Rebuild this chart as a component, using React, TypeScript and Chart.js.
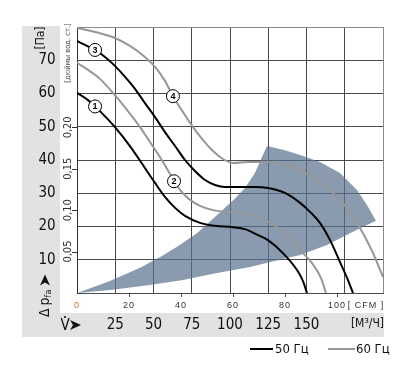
import React, { useEffect, useRef } from "react";
import { Chart, registerables } from "chart.js";

Chart.register(...registerables);

// Curve 1 (50 Hz, lower) — flow m³/h, pressure Pa
const curve1X = [0, 7.2, 15, 24.8, 34.6, 44.4, 51, 57.5, 64.1, 70.6, 80.4, 90.2, 102, 109.8, 118.3, 124.8, 134.6, 143.8, 147.7, 150.3];
const curve1Y = [60.2, 58, 54.7, 49.9, 44.2, 37.6, 33.1, 28.9, 25.6, 23.2, 21.1, 20.2, 19.8, 19.2, 17.4, 15.9, 12, 6.9, 3.6, 0];
// Curve 2 (60 Hz, lower)
const curve2X = [0, 7.2, 15, 24.8, 33.3, 41.2, 47.7, 54.2, 60.8, 67.3, 73.9, 80.4, 88.2, 96.7, 106.5, 116.3, 122.9, 129.4, 137.9, 145.8, 153.6, 159.5, 162.7];
const curve2Y = [69.2, 67.1, 64.4, 59.5, 54.7, 49.9, 45.4, 40.9, 35.8, 31, 28, 26.2, 25, 24.4, 24.1, 23.2, 22, 20.2, 17.1, 12.9, 9, 4.5, 0];
// Curve 3 (50 Hz, upper)
const curve3X = [0, 5.2, 11.8, 18.3, 24.8, 31.4, 37.9, 44.4, 51, 57.5, 64.1, 70.6, 77.1, 83.7, 90.2, 96.7, 106.5, 116.3, 124.8, 135.9, 145.8, 152.3, 158.8, 165.4, 171.9, 177.1, 180.4];
const curve3Y = [75.8, 74.6, 73.1, 71, 68.3, 65, 61.4, 57.1, 52.9, 48.4, 44.2, 40, 36.7, 34, 32.5, 31.9, 31.9, 31.9, 31.6, 30.1, 27.1, 24.4, 21.1, 15.9, 9.3, 3.9, 0];
// Curve 4 (60 Hz, upper)
const curve4X = [0, 11.8, 24.8, 34.6, 44.4, 51, 57.5, 62.7, 69.3, 75.8, 82.4, 88.9, 95.4, 102, 111.8, 120.9, 131.4, 142.5, 156.9, 167.3, 178.4, 186.9, 193.5, 200];
const curve4Y = [79.7, 78.5, 76.7, 74.3, 71, 68, 63.8, 59.2, 54.4, 49.9, 46, 42.7, 40.3, 39.1, 39.4, 39.4, 39.1, 37.6, 34, 30.1, 24.4, 18, 12, 4.8];
// Operating (shaded) region outline
const shadeX = [0, 21.6, 41.2, 55, 65.4, 78.4, 86.9, 94.8, 103.3, 109.8, 116.3, 120.9, 124.2, 135.9, 145.8, 158.8, 171.9, 183, 189.5, 195.4, 178.4, 163.4, 145.8, 134.6, 113.1, 91.5, 69.3, 47.7, 21.6, 0];
const shadeY = [0, 3.6, 7.6, 11, 13.9, 18, 21.5, 24.8, 28.4, 31.6, 36.1, 40.9, 44.2, 42.9, 41.5, 39.4, 36.1, 31, 26.5, 21.7, 18, 14.4, 11.4, 10.2, 7.8, 6, 3.9, 2.4, 0.9, 0];

// Curve number markers
const markerText = ["1", "2", "3", "4"];
const markerX = [11.8, 63.4, 11.8, 62.7];
const markerY = [56.1, 33.6, 73.1, 59.2];

// Tick labels
const paTicks = [10, 20, 30, 40, 50, 60, 70];
const flowTicks = [25, 50, 75, 100, 125, 150];
const inchTicks = [0.05, 0.1, 0.15, 0.2];
const cfmTicks = [0, 20, 40, 60, 80, 100];
const legendLabels = ["50 Гц", "60 Гц"];

const PA_PER_INCH = 249.09;
const M3H_PER_CFM = 1.699;

const NARROW = '"Liberation Sans Narrow", "DejaVu Sans Condensed", "Liberation Sans", Arial, sans-serif';
const SANS = '"Liberation Sans", Arial, sans-serif';
const BLACK = "#000000";
const GRAY = "#979797";

const pts = (xs: number[], ys: number[]) => xs.map((x, i) => ({ x, y: ys[i] }));

const decorPlugin = {
  id: "decor",
  beforeDraw(chart: any) {
    const { ctx, chartArea: a, width, height } = chart;
    ctx.save();
    ctx.fillStyle = "#ffffff";
    ctx.fillRect(0, 0, width, height);
    ctx.fillStyle = "#e2e2e2";
    ctx.fillRect(a.left - 55, a.top - 1, 38, a.bottom + 44 - (a.top - 1));
    ctx.fillRect(a.left - 55, a.bottom + 20, a.right + 1 - (a.left - 55), 24);
    ctx.restore();
  },
  afterDatasetsDraw(chart: any) {
    const { ctx, scales } = chart;
    const xs = scales.x, ys = scales.y;
    ctx.save();
    markerText.forEach((t, i) => {
      const px = xs.getPixelForValue(markerX[i]);
      const py = ys.getPixelForValue(markerY[i]);
      ctx.beginPath();
      ctx.arc(px, py, 6.5, 0, Math.PI * 2);
      ctx.fillStyle = "#fff";
      ctx.fill();
      ctx.lineWidth = 1;
      ctx.strokeStyle = "#000";
      ctx.stroke();
      ctx.fillStyle = "#000";
      ctx.font = "bold 9px " + SANS;
      ctx.textAlign = "center";
      ctx.textBaseline = "middle";
      ctx.fillText(t, px, py + 0.5);
    });
    ctx.restore();
  },
  afterDraw(chart: any) {
    const { ctx, scales, chartArea: a } = chart;
    const xs = scales.x, ys = scales.y;
    ctx.save();
    ctx.textAlign = "center";
    ctx.textBaseline = "middle";

    // Pa labels
    ctx.fillStyle = "#111";
    ctx.font = "15px " + NARROW;
    paTicks.forEach((v) => ctx.fillText(String(v), a.left - 30, ys.getPixelForValue(v)));

    // [Па]
    ctx.save();
    ctx.translate(a.left - 36, a.top + 11);
    ctx.rotate(-Math.PI / 2);
    ctx.font = "12px " + NARROW;
    ctx.fillText("[Па]", 0, 0);
    ctx.restore();

    // Δ p_fa with arrow
    ctx.save();
    ctx.translate(a.left - 32, a.bottom + 24);
    ctx.rotate(-Math.PI / 2);
    ctx.textAlign = "left";
    ctx.font = "14px " + NARROW;
    ctx.fillText("Δ", 0, 0);
    let off = ctx.measureText("Δ").width + 3;
    ctx.fillText("p", off, 0);
    off += ctx.measureText("p").width;
    ctx.font = "9px " + NARROW;
    ctx.fillText("fa", off, 4);
    off += ctx.measureText("fa").width + 4;
    ctx.beginPath();
    ctx.moveTo(off, -5);
    ctx.lineTo(off + 11, 0);
    ctx.lineTo(off, 5);
    ctx.lineTo(off + 3, 0);
    ctx.closePath();
    ctx.fill();
    ctx.restore();

    // inch of water labels + ticks
    ctx.fillStyle = "#333";
    ctx.strokeStyle = "#333";
    ctx.lineWidth = 1;
    inchTicks.forEach((v) => {
      const py = ys.getPixelForValue(v * PA_PER_INCH);
      ctx.beginPath();
      ctx.moveTo(a.left - 5, Math.round(py) + 0.5);
      ctx.lineTo(a.left, Math.round(py) + 0.5);
      ctx.stroke();
      ctx.save();
      ctx.translate(a.left - 8.5, py);
      ctx.rotate(-Math.PI / 2);
      ctx.font = "11px " + NARROW;
      ctx.fillText(v.toFixed(2).replace(".", ","), 0, 0);
      ctx.restore();
    });
    ctx.save();
    ctx.translate(a.left - 8.5, a.top + 26);
    ctx.rotate(-Math.PI / 2);
    ctx.fillStyle = "#5a5048";
    ctx.font = "7.5px " + NARROW;
    ctx.fillText("[дюймы вод. ст.]", 0, 0);
    ctx.restore();

    // CFM ticks & labels
    ctx.font = "9px " + SANS;
    (ctx as any).letterSpacing = "1px";
    cfmTicks.forEach((c) => {
      const px = xs.getPixelForValue(c * M3H_PER_CFM);
      if (c > 0) {
        ctx.strokeStyle = "#444";
        ctx.beginPath();
        ctx.moveTo(Math.round(px) + 0.5, a.bottom);
        ctx.lineTo(Math.round(px) + 0.5, a.bottom + 4);
        ctx.stroke();
      }
      ctx.fillStyle = c === 0 ? "#e0701c" : "#333";
      ctx.fillText(String(c), px, a.bottom + 13);
    });
    ctx.fillStyle = "#333";
    ctx.fillText("[ CFM ]", a.right - 17, a.bottom + 13);
    (ctx as any).letterSpacing = "0px";

    // flow band labels
    ctx.fillStyle = "#111";
    ctx.font = "15px " + NARROW;
    const bandY = a.bottom + 32;
    flowTicks.forEach((v) => ctx.fillText(String(v), xs.getPixelForValue(v), bandY));
    ctx.fillText("V", a.left - 12, bandY + 1);
    ctx.beginPath();
    ctx.arc(a.left - 12, bandY - 8, 1.1, 0, Math.PI * 2);
    ctx.fill();
    ctx.beginPath();
    ctx.moveTo(a.left - 7, bandY - 5);
    ctx.lineTo(a.left + 4, bandY);
    ctx.lineTo(a.left - 7, bandY + 5);
    ctx.lineTo(a.left - 4, bandY);
    ctx.closePath();
    ctx.fill();
    ctx.font = "12px " + NARROW;
    ctx.textAlign = "right";
    ctx.fillText("[M³/Ч]", a.right + 1, bandY - 1);

    // legend
    const ly = a.bottom + 56;
    ctx.textAlign = "left";
    ctx.font = "13px " + NARROW;
    ctx.lineWidth = 2;
    ctx.strokeStyle = BLACK;
    ctx.beginPath();
    ctx.moveTo(250, ly);
    ctx.lineTo(273, ly);
    ctx.stroke();
    ctx.fillStyle = "#111";
    ctx.fillText(legendLabels[0], 275, ly + 1);
    ctx.strokeStyle = GRAY;
    ctx.beginPath();
    ctx.moveTo(328, ly);
    ctx.lineTo(355, ly);
    ctx.stroke();
    ctx.fillText(legendLabels[1], 356, ly + 1);

    ctx.restore();
  },
};

export default function App() {
  const ref = useRef<HTMLCanvasElement | null>(null);
  useEffect(() => {
    if (!ref.current) return;
    const curve = (xs: number[], ys: number[], color: string) => ({
      data: pts(xs, ys),
      borderColor: color,
      borderWidth: 2,
      pointRadius: 0,
      fill: false,
      cubicInterpolationMode: "monotone" as const,
    });
    const chart = new Chart(ref.current, {
      type: "line",
      data: {
        datasets: [
          curve(curve3X, curve3Y, BLACK),
          curve(curve1X, curve1Y, BLACK),
          curve(curve4X, curve4Y, GRAY),
          curve(curve2X, curve2Y, GRAY),
          {
            data: pts(shadeX, shadeY),
            borderWidth: 0,
            borderColor: "rgba(0,0,0,0)",
            backgroundColor: "rgba(88,112,141,0.7)",
            pointRadius: 0,
            tension: 0,
            fill: "shape",
          } as any,
        ],
      },
      options: {
        animation: false,
        responsive: false,
        devicePixelRatio: 1,
        events: [],
        layout: { padding: { left: 77, right: 21, top: 27, bottom: 75 } },
        plugins: { legend: { display: false }, tooltip: { enabled: false } },
        scales: {
          x: {
            type: "linear",
            min: 0,
            max: 200,
            ticks: { display: false, stepSize: 25 },
            grid: {
              drawTicks: false,
              color: (c: any) => (c.tick && c.tick.value === 200 ? "#8a8a8a" : "#4a4a4a"),
              lineWidth: 1,
            },
            border: { display: true, color: "#4a4a4a" },
          },
          y: {
            type: "linear",
            min: 0,
            max: 80,
            ticks: { display: false, stepSize: 10 },
            grid: {
              drawTicks: false,
              color: (c: any) => (c.tick && c.tick.value === 80 ? "#8a8a8a" : "#4a4a4a"),
              lineWidth: 1,
            },
            border: { display: true, color: "#333" },
          },
        },
      },
      plugins: [decorPlugin],
    });
    return () => chart.destroy();
  }, []);
  return (
    <div style={{ position: "fixed", left: 0, top: 0, width: 404, height: 368, background: "#fff" }}>
      <canvas ref={ref} width={404} height={368} style={{ display: "block", width: 404, height: 368 }} />
    </div>
  );
}
